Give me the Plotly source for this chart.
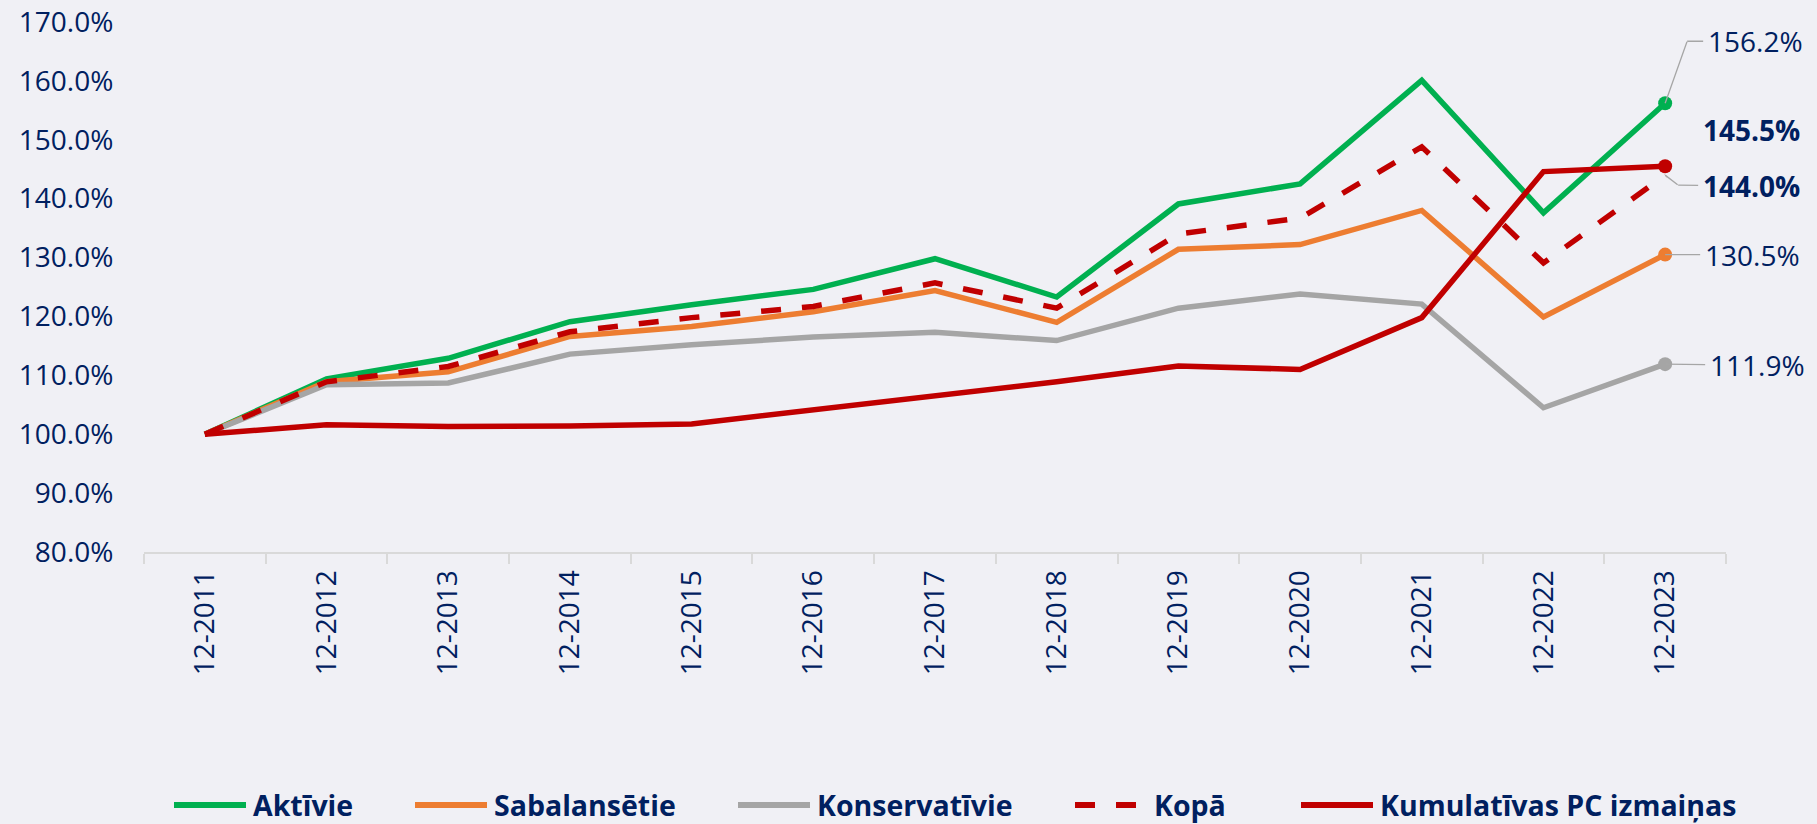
import plotly.graph_objects as go

# ---- data -------------------------------------------------------------
categories = ['12-2011', '12-2012', '12-2013', '12-2014', '12-2015', '12-2016', '12-2017',
              '12-2018', '12-2019', '12-2020', '12-2021', '12-2022', '12-2023']
aktivie = [100.0, 109.4, 112.9, 119.1, 122.0, 124.6, 129.8, 123.3, 139.1, 142.5, 160.1, 137.6, 156.2]
sabalansetie = [100.0, 108.9, 110.6, 116.6, 118.3, 120.8, 124.4, 119.0, 131.4, 132.2, 138.0, 119.9, 130.5]
konservativie = [100.0, 108.4, 108.7, 113.6, 115.2, 116.5, 117.3, 115.9, 121.4, 123.8, 122.1, 104.5, 111.9]
kopa = [100.0, 108.9, 111.5, 117.4, 119.8, 121.7, 125.7, 121.4, 134.0, 136.7, 148.8, 129.1, 144.0]
kumulativas = [100.0, 101.6, 101.3, 101.4, 101.75, 104.1, 106.4, 108.9, 111.6, 111.0, 119.8, 144.6, 145.5]

series_names = ['Aktīvie', 'Sabalansētie', 'Konservatīvie', 'Kopā', 'Kumulatīvas PC izmaiņas']
y_ticks = [80, 90, 100, 110, 120, 130, 140, 150, 160, 170]
y_ticktext = [f'{v:.1f}%' for v in y_ticks]

# ---- style ------------------------------------------------------------
BG = '#f0f0f5'
NAVY = '#002060'
LEADER = '#a6a6a6'
FONT = 'Open Sans'
colors = ['#00b050', '#ed7d31', '#a5a5a5', '#c00000', '#c00000']
dashes = ['solid', 'solid', 'solid', '20px,21px', 'solid']
show_end_marker = [True, True, True, False, True]
series = [aktivie, sabalansetie, konservativie, kopa, kumulativas]

W, H = 1817, 824
ML, MR, MT, MB = 144, 91, 22, 272
PW, PH = W - ML - MR, H - MT - MB

fig = go.Figure()
for name, vals, col, dash, mk in zip(series_names, series, colors, dashes, show_end_marker):
    sizes = [0] * (len(vals) - 1) + [14 if mk else 0]
    fig.add_trace(go.Scatter(
        x=categories, y=vals, name=name, mode='lines+markers',
        line=dict(color=col, width=5.5, dash=dash),
        marker=dict(color=col, size=sizes, opacity=1, line=dict(width=0)),
        showlegend=False, cliponaxis=False,
    ))

# ---- end-point labels ---------------------------------------------------
last = categories[-1]
# (value, bold, bend_dx, bend_dy, label_dx, label_dy, leader)
# bend = elbow of the leader line (pixels from the point); label offset is from the elbow
label_specs = [
    (aktivie[-1], False, 22, -62, 68, 0, True),
    (kumulativas[-1], True, 0, 0, 86, -36, False),
    (kopa[-1], True, 13, 10, 73, 1, True),
    (sabalansetie[-1], False, 0, 0, 87, 0, True),
    (konservativie[-1], False, 0, 0, 92, 1, True),
]
for v, bold, bdx, bdy, ldx, ldy, leader in label_specs:
    txt = f'{v:.1f}%'
    if bold:
        txt = f'<b>{txt}</b>'
    font = dict(family=FONT, size=28, color=NAVY)
    if not leader:
        fig.add_annotation(x=last, y=v, xref='x', yref='y', text=txt, showarrow=False,
                           xshift=ldx, yshift=-ldy, font=font)
        continue
    if bdx or bdy:
        # first segment of the elbow leader: point -> elbow
        fig.add_annotation(x=last, y=v, xref='x', yref='y', text='', showarrow=True,
                           ax=bdx, ay=bdy, axref='pixel', ayref='pixel',
                           arrowhead=0, arrowwidth=1.3, arrowcolor=LEADER, standoff=0,
                           font=dict(size=1), borderpad=0)
    # label with (second) leader segment starting at the elbow
    fig.add_annotation(x=last, y=v, xref='x', yref='y', text=txt, showarrow=True,
                       xshift=bdx, yshift=-bdy,
                       ax=ldx, ay=ldy, axref='pixel', ayref='pixel',
                       arrowhead=0, arrowwidth=1.3, arrowcolor=LEADER, standoff=0,
                       borderpad=4, font=font)

# ---- manual legend (long line samples as in the original) --------------
def px_x(x):
    return (x - ML) / PW

def px_y(y):
    return (H - MB - y) / PH

legend_starts = [174, 415, 738, 1075, 1301]
legend_y = 805
line_len = 72
for name, col, dash, x0 in zip(series_names, colors, dashes, legend_starts):
    fig.add_shape(type='line', xref='paper', yref='paper',
                  x0=px_x(x0), x1=px_x(x0 + line_len), y0=px_y(legend_y), y1=px_y(legend_y),
                  line=dict(color=col, width=6, dash=dash))
    fig.add_annotation(xref='paper', yref='paper', x=px_x(x0 + line_len + 5), y=px_y(legend_y),
                       text=f'<b>{name}</b>', showarrow=False, xanchor='left', yanchor='middle',
                       font=dict(family=FONT, size=28.5, color=NAVY))

fig.update_layout(
    width=W, height=H, autosize=False,
    margin=dict(l=ML, r=MR, t=MT, b=MB, pad=0, autoexpand=False),
    paper_bgcolor=BG, plot_bgcolor=BG,
    font=dict(family=FONT, size=28, color=NAVY),
    showlegend=False,
)
fig.update_xaxes(
    type='category', range=[-0.5, len(categories) - 0.5], automargin=False,
    tickson='boundaries', ticks='outside', ticklen=10, tickwidth=2, tickcolor='#d9d9d9',
    showline=True, linecolor='#d9d9d9', linewidth=2, showgrid=False, zeroline=False,
    tickangle=-90, ticklabelstandoff=5, tickfont=dict(family=FONT, size=28, color=NAVY),
)
fig.update_yaxes(
    range=[80, 170], tickmode='array', tickvals=y_ticks, ticktext=y_ticktext, automargin=False,
    showgrid=False, zeroline=False, showline=False,
    ticks='outside', ticklen=24, tickcolor='rgba(0,0,0,0)',
    tickfont=dict(family=FONT, size=28, color=NAVY),
)

fig.write_html('out.html', config={'displayModeBar': False},
               post_script="document.body.style.margin='0';document.body.style.padding='0';"
                           "document.body.style.background='" + BG + "';")
